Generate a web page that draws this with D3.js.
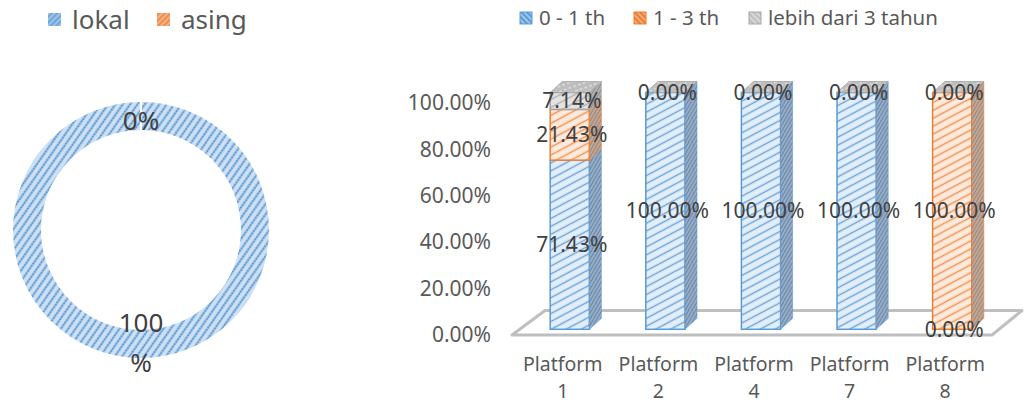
<!DOCTYPE html>
<html>
<head>
<meta charset="utf-8">
<script src="https://cdn.jsdelivr.net/npm/d3@7"></script>
<style>
  html, body { margin: 0; padding: 0; background: #ffffff; }
  svg { display: block; font-family: "Noto Sans", "Open Sans", sans-serif; }
</style>
</head>
<body>
<svg id="chart" width="1031" height="407"></svg>
<script>
// Origin of staff: local vs foreign
const originLabels = ["lokal", "asing"];
const originValues = [100, 0];

// Length of service per platform (shares of staff)
const platforms = ["Platform 1", "Platform 2", "Platform 4", "Platform 7", "Platform 8"];
const seriesNames = ["0 - 1 th", "1 - 3 th", "lebih dari 3 tahun"];
const share0to1 = [0.7143, 1.0, 1.0, 1.0, 0.0];
const share1to3 = [0.2143, 0.0, 0.0, 0.0, 1.0];
const shareOver3 = [0.0714, 0.0, 0.0, 0.0, 0.0];
const yTickValues = [0, 0.2, 0.4, 0.6, 0.8, 1.0];

const svg = d3.select("#chart");
const defs = svg.append("defs");

// Striped fill helper: background colour plus rotated lines
function stripes(id, bg, fg, size, angle, width, dash) {
  const p = defs.append("pattern")
    .attr("id", id)
    .attr("patternUnits", "userSpaceOnUse")
    .attr("width", size).attr("height", size)
    .attr("patternTransform", `rotate(${angle})`);
  p.append("rect").attr("width", size).attr("height", size).attr("fill", bg);
  const l = p.append("line")
    .attr("x1", 0).attr("x2", size)
    .attr("y1", size / 2).attr("y2", size / 2)
    .attr("stroke", fg).attr("stroke-width", width);
  if (dash) l.attr("stroke-dasharray", dash);
  return `url(#${id})`;
}

const ringFill = (() => {
  const p = defs.append("pattern")
    .attr("id", "ring").attr("patternUnits", "userSpaceOnUse")
    .attr("width", 6).attr("height", 6)
    .attr("patternTransform", "rotate(-55)");
  p.append("rect").attr("width", 6).attr("height", 6).attr("fill", "#cfe1f4");
  p.append("line").attr("x1", 0).attr("x2", 6).attr("y1", 3).attr("y2", 3)
    .attr("stroke", "#93bce4").attr("stroke-width", 2.4);
  p.append("line").attr("x1", 0).attr("x2", 6).attr("y1", 3).attr("y2", 3)
    .attr("stroke", "#4a8ccd").attr("stroke-width", 1.6).attr("stroke-dasharray", "1.5,1.5");
  return "url(#ring)";
})();
const ringFillOrange = stripes("ringO", "#f8cbad", "#ed7d31", 6, -55, 2);

const frontFills = [
  stripes("fBlue", "#e2eef9", "#6aa3d9", 7, -28, 1.4),
  stripes("fOrange", "#fdeadc", "#ef9152", 7, -28, 1.4),
  stripes("fGray", "#e3e3e3", "#b0b0b0", 7, -28, 1.4)
];
const sideFills = [
  stripes("sBlue", "#9bb2cb", "#6a85a4", 3, -60, 1.2),
  stripes("sOrange", "#c4aa9b", "#9e8778", 3, -60, 1.2),
  stripes("sGray", "#b5b5b5", "#8f8f8f", 3, -60, 1.2)
];
const topFill = stripes("tGray", "#bdbdbd", "#dedede", 5, -20, 1.4, "2,2");
const strokes = ["#5b9bd5", "#ed7d31", "#a5a5a5"];
const legendFills = [
  stripes("lBlue", "#5b9bd5", "#cfe2f3", 4, 45, 1.2),
  stripes("lOrange", "#ed7d31", "#f8cbad", 4, 45, 1.2),
  stripes("lGray", "#bfbfbf", "#e8e8e8", 4, 45, 1.2)
];
const originLegendFills = [
  stripes("olBlue", "#9dc3e6", "#5b9bd5", 4, -45, 1.4),
  stripes("olOrange", "#f4b183", "#ed7d31", 4, -45, 1.4)
];

/* ---------- Doughnut: lokal / asing ---------- */
const cx = 141, cy = 230, rOuter = 129, rInner = 99;
const pie = d3.pie().sort(null).value(d => d)(originValues);
const arc = d3.arc().innerRadius(rInner).outerRadius(rOuter);
const labelArc = d3.arc().innerRadius(109).outerRadius(109);
const donut = svg.append("g").attr("transform", `translate(${cx},${cy})`);
donut.selectAll("path").data(pie).join("path")
  .attr("d", arc)
  .attr("fill", (d, i) => i === 0 ? ringFill : ringFillOrange)
  .attr("stroke", "#ffffff").attr("stroke-width", 2);

const pctFmt = d3.format(".0%");
donut.selectAll("text.slice").data(pie).join("text")
  .attr("class", "slice")
  .attr("text-anchor", "middle")
  .attr("font-size", 26)
  .attr("fill", "#404040")
  .each(function (d, i) {
    const [x, y] = labelArc.centroid(d);
    const label = pctFmt(originValues[i] / d3.sum(originValues));
    const t = d3.select(this);
    if (label.length > 3) {
      // wide label wraps onto two lines
      t.append("tspan").attr("x", x).attr("y", y - 16).attr("dy", "0.35em").text(label.slice(0, -1));
      t.append("tspan").attr("x", x).attr("y", y + 24).attr("dy", "0.35em").text("%");
    } else {
      t.attr("x", x).attr("y", y).attr("dy", "0.35em").text(label);
    }
  });

const originLegend = svg.append("g");
const olX = [48, 157];
originLabels.forEach((name, i) => {
  originLegend.append("rect").attr("x", olX[i]).attr("y", 13).attr("width", 13).attr("height", 13)
    .attr("fill", originLegendFills[i]);
  originLegend.append("text").attr("x", olX[i] + 24).attr("y", 29)
    .attr("font-size", 26).attr("fill", "#595959").text(name);
});

/* ---------- 3D stacked columns ---------- */
const depthX = 12, depthY = -11;
const x = d3.scaleBand().domain(platforms).range([522, 1000]).paddingInner(0.59).paddingOuter(0.295);
const yFront = d3.scaleLinear().domain([0, 1]).range([329.3, 92.5]);
const yAxisScale = d3.scaleLinear().domain([0, 1]).range([334.7, 103]);

const rows = platforms.map((p, i) => ({
  platform: p, s0: share0to1[i], s1: share1to3[i], s2: shareOver3[i]
}));
const stacked = d3.stack().keys(["s0", "s1", "s2"])(rows);

// floor
const fl = x.range()[0] - 10, fr = x.range()[1] - 8, fy = yFront(0) + 5.7;
svg.append("path")
  .attr("d", `M${fl},${fy} L${fl + 33},${fy - 24.5} L${fr + 30},${fy - 24.5} L${fr},${fy} Z`)
  .attr("fill", "none").attr("stroke", "#bfbfbf").attr("stroke-width", 3)
  .attr("stroke-linejoin", "round");

// y axis tick labels
const yAxis = d3.axisLeft(yAxisScale).tickValues(yTickValues)
  .tickFormat(d3.format(".2%")).tickSize(0).tickPadding(0);
const yg = svg.append("g").attr("transform", "translate(491,0)").call(yAxis);
yg.select(".domain").remove();
yg.selectAll("text").attr("font-size", 21).attr("fill", "#595959")
  .attr("font-family", "Noto Sans, sans-serif");

// columns
const bars = svg.append("g");
platforms.forEach((p, i) => {
  const x0 = x(p), w = x.bandwidth();
  stacked.forEach((layer, k) => {
    const [v0, v1] = layer[i];
    const yb = yFront(v0), yt = yFront(v1);
    if (v1 - v0 <= 0) return;
    bars.append("rect").attr("x", x0).attr("y", yt).attr("width", w).attr("height", yb - yt)
      .attr("fill", frontFills[k]).attr("stroke", strokes[k]).attr("stroke-width", 1.5);
    bars.append("path")
      .attr("d", `M${x0 + w},${yt} L${x0 + w + depthX},${yt + depthY} L${x0 + w + depthX},${yb + depthY} L${x0 + w},${yb} Z`)
      .attr("fill", sideFills[k]).attr("stroke", strokes[k]).attr("stroke-width", 1)
      .attr("stroke-opacity", 0.6);
  });
  // top cap belongs to the last series
  const top = yFront(stacked[stacked.length - 1][i][1]);
  bars.append("path")
    .attr("d", `M${x0},${top} L${x0 + w},${top} L${x0 + w + depthX},${top + depthY} L${x0 + depthX},${top + depthY} Z`)
    .attr("fill", topFill).attr("stroke", "#a5a5a5").attr("stroke-width", 0.8);
});

// value labels (zero-height segments sharing a spot get one label)
const valFmt = d3.format(".2%");
const labels = svg.append("g");
const placed = new Set();
stacked.forEach((layer, k) => {
  layer.forEach((seg, i) => {
    const cxl = x(platforms[i]) + x.bandwidth() / 2 + 2;
    const cyl = (yFront(seg[0]) + yFront(seg[1])) / 2;
    const txt = valFmt(seg[1] - seg[0]);
    const key = `${Math.round(cxl)}|${Math.round(cyl)}|${txt}`;
    if (placed.has(key)) return;
    placed.add(key);
    labels.append("text").attr("x", cxl).attr("y", cyl).attr("dy", "0.35em")
      .attr("text-anchor", "middle").attr("font-size", 21).attr("fill", "#404040")
      .text(txt);
  });
});

// category labels on two lines
const xl = svg.append("g");
platforms.forEach(p => {
  const parts = p.split(" ");
  const xc = x(p) + x.bandwidth() / 2 - 7;
  xl.append("text").attr("text-anchor", "middle").attr("font-size", 19.5).attr("fill", "#595959")
    .attr("x", xc).attr("y", 371).text(parts[0]);
  xl.append("text").attr("text-anchor", "middle").attr("font-size", 19.5).attr("fill", "#595959")
    .attr("x", xc).attr("y", 398).text(parts[1]);
});

// legend
const lg = svg.append("g");
const legX = [520, 634, 749];
seriesNames.forEach((name, k) => {
  lg.append("rect").attr("x", legX[k]).attr("y", 12).attr("width", 12).attr("height", 12)
    .attr("fill", legendFills[k]).attr("stroke", strokes[k]).attr("stroke-width", 1);
  lg.append("text").attr("x", legX[k] + 19).attr("y", 25).attr("font-size", 20.5)
    .attr("fill", "#595959").text(name);
});
</script>
</body>
</html>
